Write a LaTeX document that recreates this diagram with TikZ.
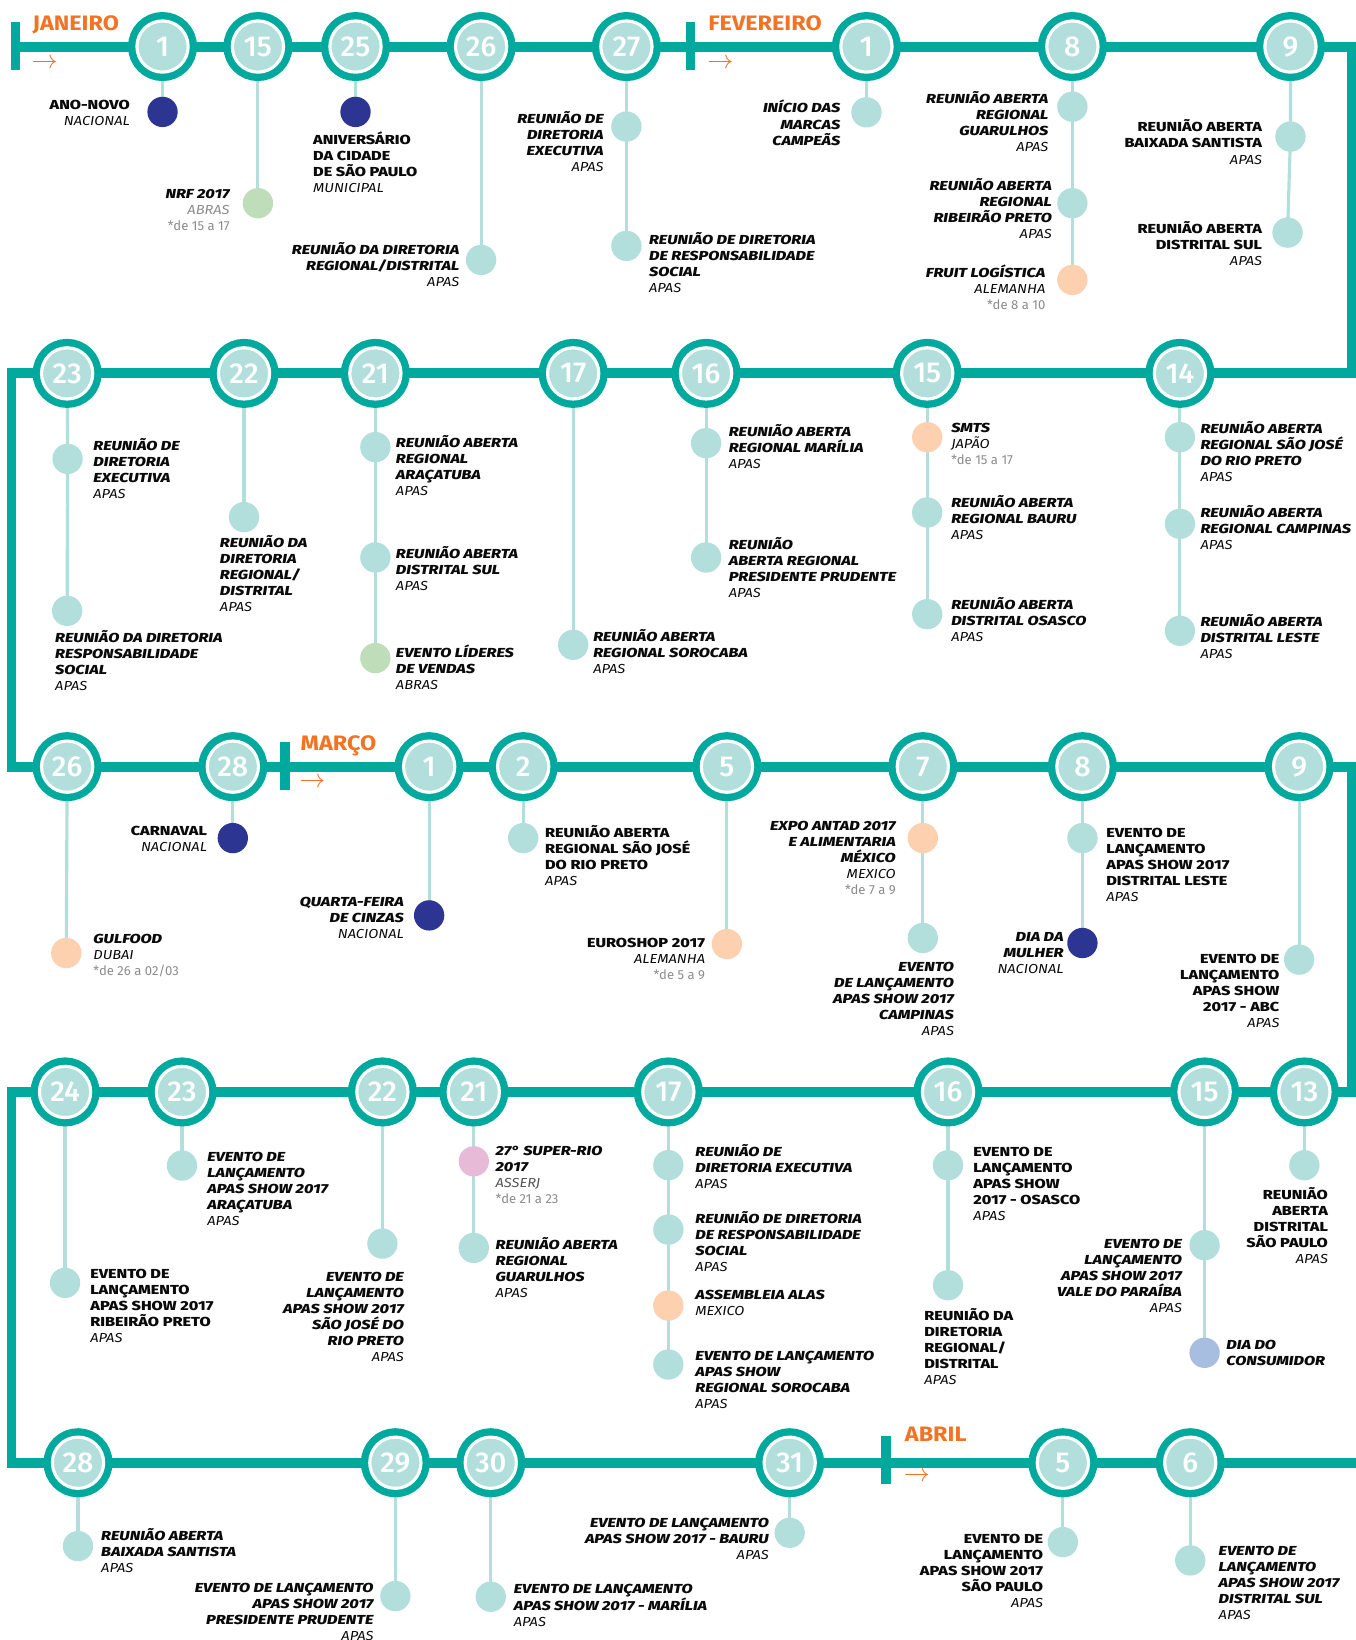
\documentclass[tikz,border=0pt]{standalone}
\usepackage{fontspec}
\newfontfamily\firaT{Fira Sans ExtraBold}[FakeStretch=1.24]
\newfontfamily\firaS{Fira Sans}[FakeStretch=1.12]
\newfontfamily\firaD{Fira Sans}
\newfontfamily\firaN{Fira Sans Medium}
\newfontfamily\firaM{Fira Sans}[FakeStretch=1.12]
\definecolor{tealM}{RGB}{0,169,157}
\definecolor{tealL}{RGB}{178,223,219}
\definecolor{blueD}{RGB}{44,54,146}
\definecolor{peachC}{RGB}{253,208,176}
\definecolor{greenL}{RGB}{192,221,185}
\definecolor{pinkL}{RGB}{231,187,216}
\definecolor{blueL}{RGB}{168,190,224}
\definecolor{orangeM}{RGB}{242,115,36}
\definecolor{greyD}{RGB}{140,140,140}
\definecolor{inkK}{RGB}{10,10,10}
\newcommand\ttlI{\firaT\mdseries\itshape\fontsize{12.5}{15.3}\selectfont}
\newcommand\ttlU{\firaT\mdseries\upshape\fontsize{12.5}{15.3}\selectfont}
\newcommand\sbt{\firaS\mdseries\itshape}
\newcommand\gdt{\firaD\mdseries\upshape\color{greyD}}
\newcommand\sr{\rule{0pt}{12pt}}
\newcommand\dateF{\firaN\fontsize{27.5}{28}\selectfont}
\newcommand\monthF{\firaM\bfseries\fontsize{20}{20}\selectfont}
\pgfdeclarelayer{back}
\pgfdeclarelayer{bg}
\pgfsetlayers{back,bg,main}
\begin{document}
\begin{tikzpicture}[x=1pt,y=-1pt,
 mainline/.style={draw=tealM, line width=9.5pt, line join=miter},
 capbar/.style={rectangle, fill=tealM, minimum width=9pt, minimum height=46pt, inner sep=0pt},
 datec/.style={circle, inner sep=0pt, outer sep=0pt, minimum size=49pt, fill=tealL, draw=white, line width=3pt, preaction={draw=tealM, line width=17pt}, text=white, font=\dateF},
 dotb/.style={circle, inner sep=0pt, minimum size=29pt},
 dL/.style={dotb, fill=tealL}, dB/.style={dotb, fill=blueD}, dP/.style={dotb, fill=peachC},
 dG/.style={dotb, fill=greenL}, dK/.style={dotb, fill=pinkL}, dC/.style={dotb, fill=blueL},
 conn/.style={draw=tealL, line width=3pt},
 lE/.style={anchor=north east, align=right, inner sep=0pt, yshift=7.7pt, font=\ttlI, text=inkK},
 lW/.style={anchor=north west, align=left, inner sep=0pt, yshift=7.7pt, font=\ttlI, text=inkK},
 lEu/.style={lE, font=\ttlU}, lWu/.style={lW, font=\ttlU},
 month/.style={anchor=base west, yshift=-7pt, inner sep=0pt, text=orangeM, font=\monthF},
 arrw/.style={anchor=west, inner sep=0pt, text=orangeM, font=\fontsize{23}{23}\selectfont}]
\begin{pgfonlayer}{back}
\fill[white] (0,0) rectangle (1296,1568);
\end{pgfonlayer}
\useasboundingbox (0,0) rectangle (1296,1568);
% path corners
\coordinate (p0) at (15,44.5);
\coordinate (p1) at (1293,44.5);
\coordinate (p2) at (1293,357);
\coordinate (p3) at (11,357);
\coordinate (p4) at (11,733);
\coordinate (p5) at (1293,733);
\coordinate (p6) at (1293,1044);
\coordinate (p7) at (11,1044);
\coordinate (p8) at (11,1398.5);
\coordinate (p9) at (1310,1398.5);
% month caps and labels
\node[capbar] (capJ) at (15,44.3) {};
\node[capbar] (capF) at (660,44.3) {};
\node[capbar] (capM) at (272.3,732.5) {};
\node[capbar] (capA) at (847,1396) {};
\node[month] (mJ) at (31,21.7) {JANEIRO};
\node[month] (mF) at (677,21.7) {FEVEREIRO};
\node[month] (mM) at (287.2,710.4) {MARÇO};
\node[month] (mA) at (865,1371.5) {ABRIL};
\node[arrw] (aJ) at (30,60.5) {$\rightarrow$};
\node[arrw] (aF) at (676,60.5) {$\rightarrow$};
\node[arrw] (aM) at (286,748.7) {$\rightarrow$};
\node[arrw] (aA) at (864,1411.4) {$\rightarrow$};
% ---------- ROW 1 ----------
\node[datec] (ja1) at (155.4,44.5) {1};
\node[datec] (ja15) at (246.6,44.5) {15};
\node[datec] (ja25) at (339.9,44.5) {25};
\node[datec] (ja26) at (460,44.5) {26};
\node[datec] (ja27) at (598.9,44.5) {27};
\node[datec] (fe1) at (828.4,44.5) {1};
\node[datec] (fe8) at (1025.3,44.5) {8};
\node[datec] (fe9) at (1233.8,44.5) {9};
\node[dB] (ja1a) at (155.4,107) {};
\node[dG] (ja15a) at (246.6,194.3) {};
\node[dB] (ja25a) at (339.9,107) {};
\node[dL] (ja26a) at (460,248.5) {};
\node[dL] (ja27a) at (598.9,121) {};
\node[dL] (ja27b) at (598.9,235.1) {};
\node[dL] (fe1a) at (828.4,107.4) {};
\node[dL] (fe8a) at (1025.3,102) {};
\node[dL] (fe8b) at (1025.3,194.3) {};
\node[dP] (fe8c) at (1025.3,267.6) {};
\node[dL] (fe9a) at (1233.8,130.6) {};
\node[dL] (fe9b) at (1231,222.4) {};
\node[lEu] (tja1) at (124.4,100.4) {\sr ANO-NOVO\\{\sbt NACIONAL}};
\node[lE] (tja15) at (219.7,185.7) {\sr NRF 2017\\{\sbt\color{greyD}ABRAS}\\{\gdt *de 15 a 17}};
\node[lWu] (tja25) at (299.2,133.8) {\sr ANIVERSÁRIO\\DA CIDADE\\DE SÃO PAULO\\{\sbt MUNICIPAL}};
\node[lE] (tja26) at (439.3,239) {\sr REUNIÃO DA DIRETORIA\\REGIONAL/DISTRITAL\\{\sbt APAS}};
\node[lE] (tja27a) at (577.3,113.7) {\sr REUNIÃO DE\\DIRETORIA\\EXECUTIVA\\{\sbt APAS}};
\node[lW] (tja27b) at (620.4,229.4) {\sr REUNIÃO DE DIRETORIA\\DE RESPONSABILIDADE\\SOCIAL\\{\sbt APAS}};
\node[lE] (tfe1) at (803.6,103.5) {\sr INÍCIO DAS\\MARCAS\\CAMPEÃS};
\node[lE] (tfe8a) at (1002.5,94) {\sr REUNIÃO ABERTA\\REGIONAL\\GUARULHOS\\{\sbt APAS}};
\node[lE] (tfe8b) at (1005.8,177.8) {\sr REUNIÃO ABERTA\\REGIONAL\\RIBEIRÃO PRETO\\{\sbt APAS}};
\node[lE] (tfe8c) at (999.6,261.2) {\sr FRUIT LOGÍSTICA\\{\sbt ALEMANHA}\\{\gdt *de 8 a 10}};
\node[lEu] (tfe9a) at (1206.8,121.7) {\sr REUNIÃO ABERTA\\BAIXADA SANTISTA\\{\sbt APAS}};
\node[lEu] (tfe9b) at (1206.8,219.2) {\sr REUNIÃO ABERTA\\DISTRITAL SUL\\{\sbt APAS}};
% ---------- ROW 2 ----------
\node[datec] (fe23) at (64.2,357) {23};
\node[datec] (fe22) at (233.3,357) {22};
\node[datec] (fe21) at (358.9,357) {21};
\node[datec] (fe17) at (548,357) {17};
\node[datec] (fe16) at (675.1,357) {16};
\node[datec] (fe15) at (886.5,357) {15};
\node[datec] (fe14) at (1128.1,357) {14};
\node[dL] (fe23a) at (64.6,438.7) {};
\node[dL] (fe23b) at (64.2,584) {};
\node[dL] (fe22a) at (233.3,494.4) {};
\node[dL] (fe21a) at (358.9,427.5) {};
\node[dL] (fe21b) at (358.9,533) {};
\node[dG] (fe21c) at (358.9,629.2) {};
\node[dL] (fe17a) at (548,616.5) {};
\node[dL] (fe16a) at (675.1,423.7) {};
\node[dL] (fe16b) at (675.1,533) {};
\node[dP] (fe15a) at (886.5,418) {};
\node[dL] (fe15b) at (886.5,490) {};
\node[dL] (fe15c) at (886.5,587.2) {};
\node[dL] (fe14a) at (1128.1,418) {};
\node[dL] (fe14b) at (1128.1,500.8) {};
\node[dL] (fe14c) at (1128.1,603.1) {};
\node[lW] (tfe23a) at (89.1,426.3) {\sr REUNIÃO DE\\DIRETORIA\\EXECUTIVA\\{\sbt APAS}};
\node[lW] (tfe23b) at (52.6,610) {\sr REUNIÃO DA DIRETORIA\\RESPONSABILIDADE\\SOCIAL\\{\sbt APAS}};
\node[lW] (tfe22) at (210.1,518.6) {\sr REUNIÃO DA\\DIRETORIA\\REGIONAL/\\DISTRITAL\\{\sbt APAS}};
\node[lW] (tfe21a) at (378.4,423.7) {\sr REUNIÃO ABERTA\\REGIONAL\\ARAÇATUBA\\{\sbt APAS}};
\node[lW] (tfe21b) at (378.4,529.8) {\sr REUNIÃO ABERTA\\DISTRITAL SUL\\{\sbt APAS}};
\node[lW] (tfe21c) at (378.4,623.8) {\sr EVENTO LÍDERES\\DE VENDAS\\{\sbt ABRAS}};
\node[lW] (tfe17) at (567,608.5) {\sr REUNIÃO ABERTA\\REGIONAL SOROCABA\\{\sbt APAS}};
\node[lW] (tfe16a) at (696.6,412.6) {\sr REUNIÃO ABERTA\\REGIONAL MARÍLIA\\{\sbt APAS}};
\node[lW] (tfe16b) at (696.6,520.9) {\sr REUNIÃO\\ABERTA REGIONAL\\PRESIDENTE PRUDENTE\\{\sbt APAS}};
\node[lW] (tfe15a) at (909.3,409.4) {\sr SMTS\\{\sbt JAPÃO}\\{\gdt *de 15 a 17}};
\node[lW] (tfe15b) at (909.3,481) {\sr REUNIÃO ABERTA\\REGIONAL BAURU\\{\sbt APAS}};
\node[lW] (tfe15c) at (909.3,578.6) {\sr REUNIÃO ABERTA\\DISTRITAL OSASCO\\{\sbt APAS}};
\node[lW] (tfe14a) at (1147.6,410) {\sr REUNIÃO ABERTA\\REGIONAL SÃO JOSÉ\\DO RIO PRETO\\{\sbt APAS}};
\node[lW] (tfe14b) at (1147.6,490.6) {\sr REUNIÃO ABERTA\\REGIONAL CAMPINAS\\{\sbt APAS}};
\node[lW] (tfe14c) at (1147.6,594.8) {\sr REUNIÃO ABERTA\\DISTRITAL LESTE\\{\sbt APAS}};
% ---------- ROW 3 ----------
\node[datec] (fe26) at (64.2,733) {26};
\node[datec] (fe28) at (222.6,733) {28};
\node[datec] (ma1) at (410.3,733) {1};
\node[datec] (ma2) at (500.2,733) {2};
\node[datec] (ma5) at (695,733) {5};
\node[datec] (ma7) at (882.3,733) {7};
\node[datec] (ma8) at (1034.9,733) {8};
\node[datec] (ma9) at (1242.1,733) {9};
\node[dP] (fe26a) at (63.4,911.2) {};
\node[dB] (fe28a) at (222.6,801.3) {};
\node[dB] (ma1a) at (410.3,875.2) {};
\node[dL] (ma2a) at (500.2,801.3) {};
\node[dP] (ma5a) at (695,902.6) {};
\node[dP] (ma7a) at (882.3,801.3) {};
\node[dL] (ma7b) at (882.3,896.8) {};
\node[dL] (ma8a) at (1034.9,801.3) {};
\node[dB] (ma8b) at (1034.9,901.6) {};
\node[dL] (ma9a) at (1242.1,917.5) {};
\node[lW] (tfe26) at (89.1,897.8) {\sr GULFOOD\\{\sbt DUBAI}\\{\gdt *de 26 a 02/03}};
\node[lEu] (tfe28) at (198.1,794.2) {\sr CARNAVAL\\{\sbt NACIONAL}};
\node[lE] (tma1) at (386.3,861.8) {\sr QUARTA-FEIRA\\DE CINZAS\\{\sbt NACIONAL}};
\node[lWu] (tma2) at (521,796.4) {\sr REUNIÃO ABERTA\\REGIONAL SÃO JOSÉ\\DO RIO PRETO\\{\sbt APAS}};
\node[lEu] (tma5) at (674.3,901.6) {\sr EUROSHOP 2017\\{\sbt ALEMANHA}\\{\gdt *de 5 a 9}};
\node[lE] (tma7a) at (856.6,789.1) {\sr EXPO ANTAD 2017\\E ALIMENTARIA\\MÉXICO\\{\sbt MEXICO}\\{\gdt *de 7 a 9}};
\node[lE] (tma7b) at (912.2,923.9) {\sr EVENTO\\DE LANÇAMENTO\\APAS SHOW 2017\\CAMPINAS\\{\sbt APAS}};
\node[lWu] (tma8a) at (1057.6,796.4) {\sr EVENTO DE\\LANÇAMENTO\\APAS SHOW 2017\\DISTRITAL LESTE\\{\sbt APAS}};
\node[lE] (tma8b) at (1017,895.8) {\sr DIA DA\\MULHER\\{\sbt NACIONAL}};
\node[lEu] (tma9) at (1223.4,916.9) {\sr EVENTO DE\\LANÇAMENTO\\APAS SHOW\\2017 - ABC\\{\sbt APAS}};
% ---------- ROW 4 ----------
\node[datec] (ma24) at (62.2,1044) {24};
\node[datec] (ma23) at (174,1044) {23};
\node[datec] (ma22) at (365.6,1044) {22};
\node[datec] (ma21) at (453,1044) {21};
\node[datec] (ma17) at (639,1044) {17};
\node[datec] (ma16) at (906.4,1044) {16};
\node[datec] (ma15) at (1151.7,1044) {15};
\node[datec] (ma13) at (1247.1,1044) {13};
\node[dL] (ma24a) at (62.2,1226.5) {};
\node[dL] (ma23a) at (174,1114.4) {};
\node[dL] (ma22a) at (365.6,1189) {};
\node[dK] (ma21a) at (453,1110.3) {};
\node[dL] (ma21b) at (453,1193.1) {};
\node[dL] (ma17a) at (639,1114) {};
\node[dL] (ma17b) at (639,1175.6) {};
\node[dP] (ma17c) at (639,1248.2) {};
\node[dL] (ma17d) at (639,1304.6) {};
\node[dL] (ma16a) at (906.4,1114.1) {};
\node[dL] (ma16b) at (906.4,1228.8) {};
\node[dL] (ma15a) at (1151.7,1190.5) {};
\node[dC] (ma15b) at (1151.7,1293.4) {};
\node[dL] (ma13a) at (1247.1,1114.1) {};
\node[lWu] (tma24) at (86.2,1217.9) {\sr EVENTO DE\\LANÇAMENTO\\APAS SHOW 2017\\RIBEIRÃO PRETO\\{\sbt APAS}};
\node[lW] (tma23) at (198.1,1106.1) {\sr EVENTO DE\\LANÇAMENTO\\APAS SHOW 2017\\ARAÇATUBA\\{\sbt APAS}};
\node[lE] (tma22) at (386.3,1220.8) {\sr EVENTO DE\\LANÇAMENTO\\APAS SHOW 2017\\SÃO JOSÉ DO\\RIO PRETO\\{\sbt APAS}};
\node[lW] (tma21a) at (473.7,1100.1) {\sr 27° SUPER-RIO\\2017\\{\sbt\color{greyD!60!black}ASSERJ}\\{\gdt *de 21 a 23}};
\node[lW] (tma21b) at (473.7,1189.9) {\sr REUNIÃO ABERTA\\REGIONAL\\GUARULHOS\\{\sbt APAS}};
\node[lW] (tma17a) at (664.7,1101.3) {\sr REUNIÃO DE\\DIRETORIA EXECUTIVA\\{\sbt APAS}};
\node[lW] (tma17b) at (664.7,1165.4) {\sr REUNIÃO DE DIRETORIA\\DE RESPONSABILIDADE\\SOCIAL\\{\sbt APAS}};
\node[lW] (tma17c) at (664.7,1237.7) {\sr ASSEMBLEIA ALAS\\{\sbt MEXICO}};
\node[lW] (tma17d) at (664.7,1296.6) {\sr EVENTO DE LANÇAMENTO\\APAS SHOW\\REGIONAL SOROCABA\\{\sbt APAS}};
\node[lWu] (tma16a) at (930.4,1101.3) {\sr EVENTO DE\\LANÇAMENTO\\APAS SHOW\\2017 - OSASCO\\{\sbt APAS}};
\node[lWu] (tma16b) at (883.6,1257.8) {\sr REUNIÃO DA\\DIRETORIA\\REGIONAL/\\DISTRITAL\\{\sbt APAS}};
\node[lE] (tma15a) at (1130.2,1189) {\sr EVENTO DE\\LANÇAMENTO\\APAS SHOW 2017\\VALE DO PARAÍBA\\{\sbt APAS}};
\node[lW] (tma15b) at (1172.4,1285.5) {\sr DIA DO\\CONSUMIDOR};
\node[lEu] (tma13) at (1269.8,1142.1) {\sr REUNIÃO\\ABERTA\\DISTRITAL\\SÃO PAULO\\{\sbt APAS}};
% ---------- ROW 5 ----------
\node[datec] (ma28) at (74.6,1398.5) {28};
\node[datec] (ma29) at (378,1398.5) {29};
\node[datec] (ma30) at (469.2,1398.5) {30};
\node[datec] (ma31) at (755,1398.5) {31};
\node[datec] (ab5) at (1016.2,1398.5) {5};
\node[datec] (ab6) at (1138,1398.5) {6};
\node[dL] (ma28a) at (74.6,1478.2) {};
\node[dL] (ma29a) at (378,1526) {};
\node[dL] (ma30a) at (469.2,1526.6) {};
\node[dL] (ma31a) at (755,1465.5) {};
\node[dL] (ab5a) at (1016.2,1474.4) {};
\node[dL] (ab6a) at (1138,1491.9) {};
\node[lW] (tma28) at (96.6,1468) {\sr REUNIÃO ABERTA\\BAIXADA SANTISTA\\{\sbt APAS}};
\node[lE] (tma29) at (357.3,1518) {\sr EVENTO DE LANÇAMENTO\\APAS SHOW 2017\\PRESIDENTE PRUDENTE\\{\sbt APAS}};
\node[lW] (tma30) at (491.1,1518.9) {\sr EVENTO DE LANÇAMENTO\\APAS SHOW 2017 - MARÍLIA\\{\sbt APAS}};
\node[lE] (tma31) at (735.2,1455.9) {\sr EVENTO DE LANÇAMENTO\\APAS SHOW 2017 - BAURU\\{\sbt APAS}};
\node[lEu] (tab5) at (997.5,1471.2) {\sr EVENTO DE\\LANÇAMENTO\\APAS SHOW 2017\\SÃO PAULO\\{\sbt APAS}};
\node[lW] (tab6) at (1165,1483.1) {\sr EVENTO DE\\LANÇAMENTO\\APAS SHOW 2017\\DISTRITAL SUL\\{\sbt APAS}};
% ---------- background: timeline and connectors ----------
\begin{pgfonlayer}{bg}
\draw[mainline] (p0) -- (p1) -- (p2) -- (p3) -- (p4) -- (p5) -- (p6) -- (p7) -- (p8) -- (p9);
\draw[conn] (ja1.center) -- (ja1a.center);
\draw[conn] (ja15.center) -- (ja15a.center);
\draw[conn] (ja25.center) -- (ja25a.center);
\draw[conn] (ja26.center) -- (ja26a.center);
\draw[conn] (ja27.center) -- (ja27a.center) -- (ja27b.center);
\draw[conn] (fe1.center) -- (fe1a.center);
\draw[conn] (fe8.center) -- (fe8a.center) -- (fe8b.center) -- (fe8c.center);
\draw[conn] (fe9.center) -- (fe9a.center) -- (fe9b.center);
\draw[conn] (fe23.center) -- (fe23a.center) -- (fe23b.center);
\draw[conn] (fe22.center) -- (fe22a.center);
\draw[conn] (fe21.center) -- (fe21a.center) -- (fe21b.center) -- (fe21c.center);
\draw[conn] (fe17.center) -- (fe17a.center);
\draw[conn] (fe16.center) -- (fe16a.center) -- (fe16b.center);
\draw[conn] (fe15.center) -- (fe15a.center) -- (fe15b.center) -- (fe15c.center);
\draw[conn] (fe14.center) -- (fe14a.center) -- (fe14b.center) -- (fe14c.center);
\draw[conn] (fe26.center) -- (fe26a.center);
\draw[conn] (fe28.center) -- (fe28a.center);
\draw[conn] (ma1.center) -- (ma1a.center);
\draw[conn] (ma2.center) -- (ma2a.center);
\draw[conn] (ma5.center) -- (ma5a.center);
\draw[conn] (ma7.center) -- (ma7a.center) -- (ma7b.center);
\draw[conn] (ma8.center) -- (ma8a.center) -- (ma8b.center);
\draw[conn] (ma9.center) -- (ma9a.center);
\draw[conn] (ma24.center) -- (ma24a.center);
\draw[conn] (ma23.center) -- (ma23a.center);
\draw[conn] (ma22.center) -- (ma22a.center);
\draw[conn] (ma21.center) -- (ma21a.center) -- (ma21b.center);
\draw[conn] (ma17.center) -- (ma17a.center) -- (ma17b.center) -- (ma17c.center) -- (ma17d.center);
\draw[conn] (ma16.center) -- (ma16a.center) -- (ma16b.center);
\draw[conn] (ma15.center) -- (ma15a.center) -- (ma15b.center);
\draw[conn] (ma13.center) -- (ma13a.center);
\draw[conn] (ma28.center) -- (ma28a.center);
\draw[conn] (ma29.center) -- (ma29a.center);
\draw[conn] (ma30.center) -- (ma30a.center);
\draw[conn] (ma31.center) -- (ma31a.center);
\draw[conn] (ab5.center) -- (ab5a.center);
\draw[conn] (ab6.center) -- (ab6a.center);
\end{pgfonlayer}
\end{tikzpicture}
\end{document}
